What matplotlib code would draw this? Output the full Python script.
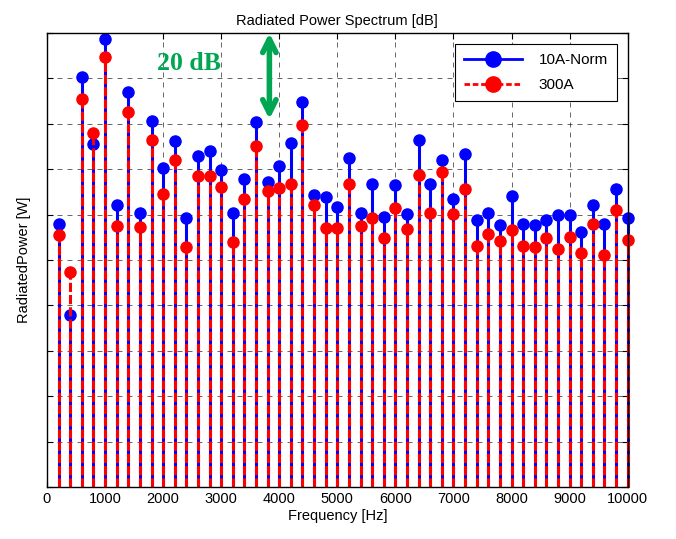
import numpy as np
import matplotlib
matplotlib.use("Agg")
import matplotlib.pyplot as plt
from matplotlib.lines import Line2D

plt.rcParams['font.family'] = ['Liberation Sans', 'DejaVu Sans']

# frequencies of the harmonics
freq = np.arange(200, 10001, 200)

# radiated power, dB (one grid step = 10 dB)
power_10a = [57.9, 37.9, 90.2, 75.6, 98.7, 62.1, 87.1, 60.3, 80.7, 70.3,
             76.1, 59.3, 72.9, 73.9, 69.8, 60.4, 67.8, 80.3, 67.2, 70.6,
             75.7, 84.9, 64.3, 63.9, 61.7, 72.4, 60.4, 66.7, 59.5, 66.5,
             60.1, 76.4, 66.7, 72.0, 63.4, 73.3, 58.7, 60.4, 57.7, 64.2,
             57.9, 57.7, 58.8, 59.9, 59.9, 56.2, 62.1, 57.9, 65.6, 59.3]
power_300a = [55.5, 47.3, 85.5, 77.9, 94.7, 57.5, 82.5, 57.2, 76.4, 64.5,
              72.1, 52.8, 68.6, 68.6, 66.1, 54.0, 63.4, 75.0, 65.3, 65.9,
              66.7, 79.7, 62.1, 57.0, 57.0, 66.7, 57.5, 59.3, 54.8, 61.5,
              56.8, 68.7, 60.3, 69.4, 60.1, 65.6, 53.1, 55.7, 54.2, 56.5,
              53.1, 52.8, 54.9, 52.4, 55.1, 51.5, 57.9, 51.1, 61.0, 54.4]

labels = ['10A-Norm', '300A']
xticks = np.arange(0, 10001, 1000)

fig = plt.figure(figsize=(6.76, 5.39), dpi=100)
ax = fig.add_axes([0.0695, 0.0965, 0.859, 0.8423])

# blue stems (solid) first, red dashed on top
m1, s1, b1 = ax.stem(freq, power_10a, linefmt='b-', markerfmt='bo', basefmt=' ', bottom=0)
s1.set_linewidth(2.2)
s1.set_clip_on(False)
m1.set_markersize(8)
m1.set_clip_on(False)

m2, s2, b2 = ax.stem(freq, power_300a, linefmt='r--', markerfmt='ro', basefmt=' ', bottom=0)
s2.set_linewidth(2.2)
s2.set_linestyle((0, (3, 1)))
s2.set_clip_on(False)
m2.set_markersize(8)
m2.set_clip_on(False)

ax.set_xlim(0, 10000)
ax.set_ylim(0, 100)
ax.set_xticks(xticks)
ax.set_yticks(np.arange(0, 101, 10))
ax.set_yticklabels([])
ax.tick_params(direction='in', top=True, right=True, labelsize=10.5, length=4)
ax.grid(True, color='black', linestyle=(0, (6, 6)), linewidth=0.6, alpha=0.7)
ax.set_axisbelow(True)
for sp in ax.spines.values():
    sp.set_linewidth(1.0)

ax.set_title('Radiated Power Spectrum [dB]', fontsize=10.5, pad=6)
ax.set_xlabel('Frequency [Hz]', fontsize=10.5, labelpad=2)
ax.set_ylabel('RadiatedPower [W]', fontsize=10.5, labelpad=8)

# 20 dB marker
ax.annotate('', xy=(3830, 100), xytext=(3830, 81),
            arrowprops=dict(arrowstyle='<->', color='#00a651', lw=4,
                            mutation_scale=24, shrinkA=0, shrinkB=0),
            annotation_clip=False)
ax.text(2440, 93.3, '20 dB', color='#00a651', fontsize=18.5, fontweight='bold',
        family='Liberation Serif', ha='center', va='center')

handles = [Line2D([], [], color='b', lw=2, marker='o', markersize=11, markevery=[1]),
           Line2D([], [], color='r', lw=2, ls=(0, (2, 1)), marker='o', markersize=11, markevery=[1])]
leg = ax.legend(handles, labels, loc='upper right', fontsize=11, fancybox=False,
                framealpha=1, edgecolor='black', handlelength=3.8, handletextpad=1.1,
                borderaxespad=0.7, labelspacing=0.75, borderpad=0.6)
leg.get_frame().set_linewidth(0.8)

fig.savefig('out.png', dpi=100)
